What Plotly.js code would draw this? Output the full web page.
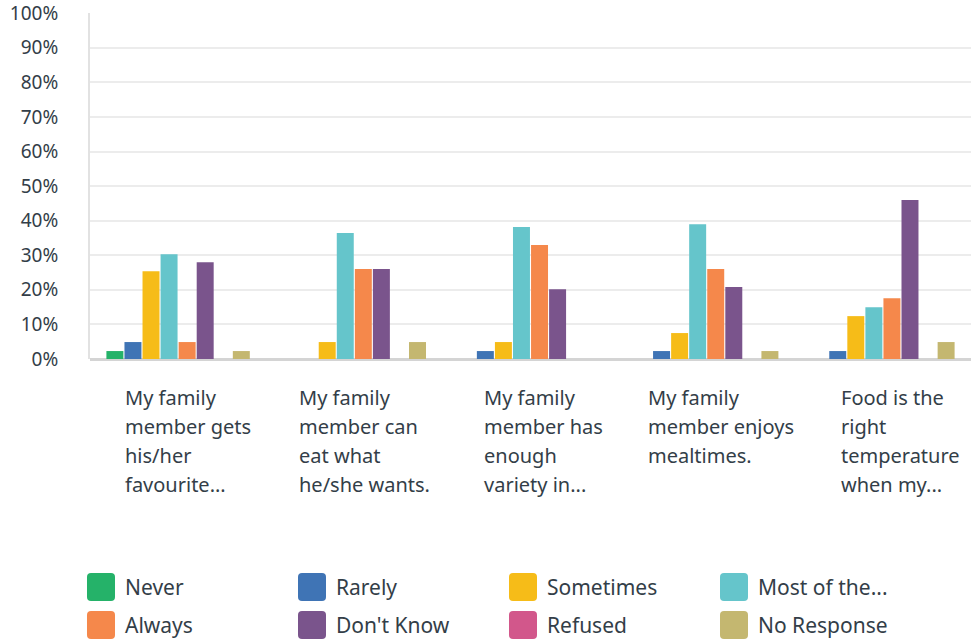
<!DOCTYPE html>
<html>
<head>
<meta charset="utf-8">
<script src="https://cdn.plot.ly/plotly-3.0.1.min.js"></script>
<style>html,body{margin:0;padding:0;background:#fff;}#chart{width:971px;height:642px;}</style>
</head>
<body>
<div id="chart"></div>
<script>
// ---- data ----
const categories = ["cat1", "cat2", "cat3", "cat4", "cat5"];
const categoryLines = [
  ["My family", "member gets", "his/her", "favourite..."],
  ["My family", "member can", "eat what", "he/she wants."],
  ["My family", "member has", "enough", "variety in..."],
  ["My family", "member enjoys", "mealtimes."],
  ["Food is the", "right", "temperature", "when my..."]
];
const seriesNames = ["Never", "Rarely", "Sometimes", "Most of the...", "Always", "Don't Know", "Refused", "No Response"];
const never      = [2.3, 0, 0, 0, 0];
const rarely     = [4.9, 0, 2.3, 2.3, 2.3];
const sometimes  = [25.4, 4.9, 4.9, 7.5, 12.4];
const mostOfThe  = [30.3, 36.4, 38.2, 39.0, 15.0];
const always     = [4.9, 26.0, 33.0, 26.0, 17.6];
const dontKnow   = [28.0, 26.0, 20.2, 20.8, 46.0];
const refused    = [0, 0, 0, 0, 0];
const noResponse = [2.3, 4.9, 0, 2.3, 4.9];
const yTickVals  = [0, 10, 20, 30, 40, 50, 60, 70, 80, 90, 100];
const yTickText  = ["0%", "10%", "20%", "30%", "40%", "50%", "60%", "70%", "80%", "90%", "100%"];

const seriesValues = [never, rarely, sometimes, mostOfThe, always, dontKnow, refused, noResponse];
const colors = ["#25b269", "#3f74b5", "#f6bc18", "#65c5cb", "#f5884b", "#7a548c", "#d2578b", "#c4b770"];

const FONT = "Noto Sans, Open Sans, sans-serif";
const TEXT = "#333e48";

// layout geometry (pixels)
const W = 971, H = 642, ML = 90, MR = 0, MT = 13, MB = 283;
const plotW = W - ML - MR, plotH = H - MT - MB;
const px2x = p => (p - ML) / plotW;
const py2y = p => (H - MB - p) / plotH;

const traces = seriesNames.map((name, i) => ({
  type: "bar",
  name: name,
  x: categories,
  y: seriesValues[i],
  marker: {color: colors[i], line: {width: 0}},
  showlegend: false,
  hoverinfo: "name+y"
}));

// category labels (left-aligned, per line)
const labelOffsets = [-0.313, -0.326, -0.276, -0.345, -0.250];
const annotations = [];
categoryLines.forEach((lines, i) => {
  lines.forEach((ln, k) => {
    annotations.push({
      xref: "x", yref: "paper", x: i + labelOffsets[i], y: 0,
      xanchor: "left", yanchor: "middle", yshift: -38 - 29 * k,
      text: ln, showarrow: false, align: "left",
      font: {family: FONT, size: 20, color: TEXT}
    });
  });
});

// custom legend
const shapes = [];
const colX = [87, 298, 509, 720];
const rowY = [587, 625];
const sw = 28, r = 4;
seriesNames.forEach((name, i) => {
  const c = i % 4, rr = Math.floor(i / 4);
  const x0 = colX[c], y0 = rowY[rr] - sw / 2, x1 = x0 + sw, y1 = y0 + sw;
  const P = (a, b) => px2x(a).toFixed(5) + "," + py2y(b).toFixed(5);
  const path = "M" + P(x0 + r, y0) + " L" + P(x1 - r, y0) + " Q" + P(x1, y0) + " " + P(x1, y0 + r) +
    " L" + P(x1, y1 - r) + " Q" + P(x1, y1) + " " + P(x1 - r, y1) +
    " L" + P(x0 + r, y1) + " Q" + P(x0, y1) + " " + P(x0, y1 - r) +
    " L" + P(x0, y0 + r) + " Q" + P(x0, y0) + " " + P(x0 + r, y0) + " Z";
  shapes.push({type: "path", xref: "paper", yref: "paper", path: path,
    fillcolor: colors[i], line: {width: 0}, layer: "above"});
  annotations.push({
    xref: "paper", yref: "paper", x: px2x(x0 + 36), y: py2y(rowY[rr]),
    xanchor: "left", yanchor: "middle", text: name, showarrow: false,
    font: {family: FONT, size: 21, color: TEXT}
  });
});

const layout = {
  width: W, height: H,
  margin: {l: ML, r: MR, t: MT, b: MB, pad: 0},
  paper_bgcolor: "#ffffff", plot_bgcolor: "#ffffff",
  barmode: "group", bargap: 0.18, bargroupgap: 0.06,
  showlegend: false,
  font: {family: FONT, color: TEXT},
  xaxis: {
    showticklabels: false, ticks: "", showgrid: false, zeroline: false,
    showline: false, fixedrange: true
  },
  yaxis: {
    range: [0, 100.05], tickvals: yTickVals, ticktext: yTickText,
    showgrid: true, gridcolor: "#ececec", gridwidth: 2,
    zeroline: true, zerolinecolor: "#d4d4d4", zerolinewidth: 3,
    showline: true, linecolor: "#e2e2e2", linewidth: 2,
    ticks: "", ticklabelstandoff: 26, ticklabeloverflow: "allow",
    tickfont: {family: FONT, size: 19, color: TEXT}, fixedrange: true
  },
  shapes: shapes,
  annotations: annotations
};

Plotly.newPlot("chart", traces, layout, {displayModeBar: false, staticPlot: true});
</script>
</body>
</html>
